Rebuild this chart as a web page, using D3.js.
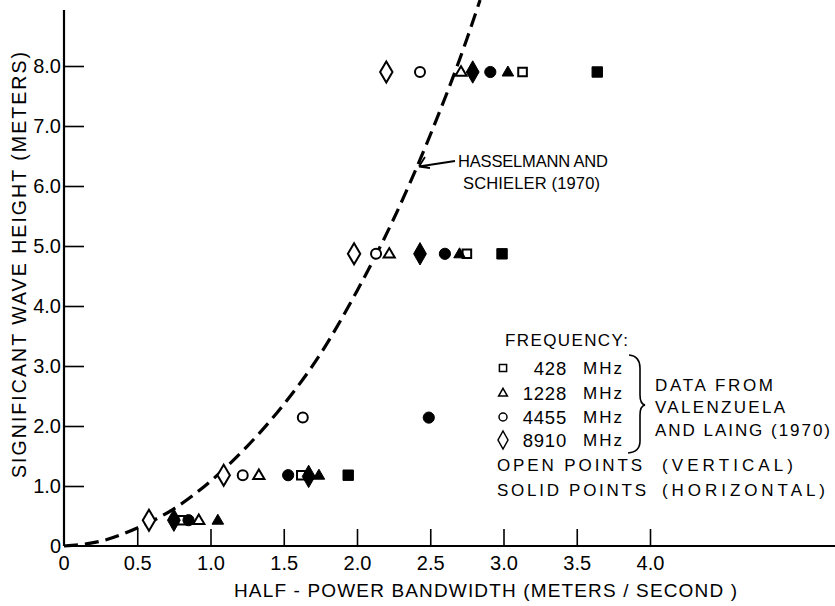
<!DOCTYPE html>
<html>
<head>
<meta charset="utf-8">
<script src="https://cdn.jsdelivr.net/npm/d3@7/dist/d3.min.js"></script>
<style>
  html, body { margin: 0; padding: 0; background: #fff; }
  svg { display: block; }
  text { font-family: "Liberation Sans", Arial, sans-serif; fill: #000; }
</style>
</head>
<body>
<svg id="chart" width="835" height="606"></svg>
<script>
// Tick values and labels
const xTicks = [0, 0.5, 1.0, 1.5, 2.0, 2.5, 3.0, 3.5, 4.0];
const xTickLabels = ["0", "0.5", "1.0", "1.5", "2.0", "2.5", "3.0", "3.5", "4.0"];
const yTicks = [0, 1, 2, 3, 4, 5, 6, 7, 8];
const yTickLabels = ["0", "1.0", "2.0", "3.0", "4.0", "5.0", "6.0", "7.0", "8.0"];

// Hasselmann and Schieler (1970) curve: bandwidth (m/s) vs wave height (m)
const curveBandwidth = [0, 0.25, 0.5, 0.75, 1.0, 1.25, 1.5, 1.75, 2.0, 2.25, 2.5, 2.75, 2.84];
const curveHeight    = [0, 0.08, 0.3, 0.62, 1.08, 1.66, 2.36, 3.2, 4.25, 5.45, 6.85, 8.45, 9.1];

// Valenzuela and Laing (1970): [bandwidth, significant wave height]
// open = vertical polarization, solid = horizontal polarization
const open428   = [[3.13, 7.9], [2.75, 4.87], [1.62, 1.18], [0.81, 0.43]];
const solid428  = [[3.64, 7.9], [2.99, 4.87], [1.94, 1.18]];
const open1228  = [[2.71, 7.9], [2.22, 4.87], [1.33, 1.18], [0.92, 0.43]];
const solid1228 = [[3.03, 7.9], [2.70, 4.87], [1.74, 1.18], [1.05, 0.43]];
const open4455  = [[2.43, 7.9], [2.13, 4.87], [1.63, 2.14], [1.22, 1.18]];
const solid4455 = [[2.91, 7.9], [2.60, 4.87], [2.49, 2.14], [1.53, 1.18], [0.85, 0.43]];
const open8910  = [[2.20, 7.9], [1.98, 4.87], [1.09, 1.18], [0.58, 0.43]];
const solid8910 = [[2.79, 7.9], [2.43, 4.87], [1.67, 1.16], [0.75, 0.43]];

const legendFreqs = ["428", "1228", "4455", "8910"];

const svg = d3.select("#chart");
svg.append("rect").attr("width", 835).attr("height", 606).attr("fill", "#fff");

const x = d3.scaleLinear().domain([0, 4]).range([64, 650]);
const y = d3.scaleLinear().domain([0, 8]).range([546, 66]);

// Marker shapes
const shapes = {
  square: s => `M${-s},${-s}h${2 * s}v${2 * s}h${-2 * s}Z`,
  triangle: (w, h) => `M0,${-h * 0.6}L${w},${h * 0.4}L${-w},${h * 0.4}Z`,
  circle: r => `M${r},0A${r},${r} 0 1 1 ${-r},0A${r},${r} 0 1 1 ${r},0Z`,
  diamond: (w, h) => `M0,${-h}L${w},0L0,${h}L${-w},0Z`
};

// Text helper: optional fixed drawn width, spacing stretched to fit
function label(parent, str, px, py, size, width, anchor) {
  const t = parent.append("text").attr("x", px).attr("y", py)
    .attr("dominant-baseline", "central").attr("font-size", size)
    .attr("text-anchor", anchor || "start").text(str);
  if (width) t.attr("textLength", width).attr("lengthAdjust", "spacing");
  return t;
}

// Axes
const xAxis = d3.axisBottom(x)
  .tickValues(xTicks.slice(1))
  .tickSize(-17)
  .tickPadding(10)
  .tickFormat((d) => xTickLabels[xTicks.indexOf(d)]);
const gx = svg.append("g").attr("transform", `translate(0,${y(0)})`).call(xAxis);
gx.select(".domain").remove();
gx.selectAll(".tick line").attr("stroke", "#000").attr("stroke-width", 1.6);
gx.selectAll(".tick text").attr("font-size", 20).attr("font-family", "Liberation Sans, Arial, sans-serif").attr("fill", "#000");

const yAxis = d3.axisLeft(y)
  .tickValues(yTicks.slice(1))
  .tickSize(-20)
  .tickPadding(3)
  .tickFormat((d) => yTickLabels[yTicks.indexOf(d)]);
const gy = svg.append("g").attr("transform", `translate(${x(0)},0)`).call(yAxis);
gy.select(".domain").remove();
gy.selectAll(".tick line").attr("stroke", "#000").attr("stroke-width", 1.6);
gy.selectAll(".tick text").attr("font-size", 20).attr("font-family", "Liberation Sans, Arial, sans-serif").attr("fill", "#000");

// Zero labels on both axes
label(svg, yTickLabels[0], x(0) - 3, y(0), 20, null, "end");
label(svg, xTickLabels[0], x(0), y(0) + 17, 20, null, "middle");

// Axis lines
svg.append("line").attr("x1", x(0)).attr("x2", x(0)).attr("y1", 10).attr("y2", y(0))
  .attr("stroke", "#000").attr("stroke-width", 2.2);
svg.append("line").attr("x1", x(0)).attr("x2", 835).attr("y1", y(0)).attr("y2", y(0))
  .attr("stroke", "#000").attr("stroke-width", 2.2);

// Axis titles
label(svg, "HALF - POWER BANDWIDTH (METERS / SECOND )", 234, 590, 19, 503);
label(svg, "SIGNIFICANT WAVE HEIGHT (METERS)", 0, 0, 19.5, 426, "middle")
  .attr("transform", "translate(19,265) rotate(-90)").attr("x", null).attr("y", null);

// Theoretical curve
const curvePts = curveBandwidth.map((b, i) => [b, curveHeight[i]]);
svg.append("path")
  .attr("d", d3.line().x(d => x(d[0])).y(d => y(d[1])).curve(d3.curveMonotoneX)(curvePts))
  .attr("fill", "none").attr("stroke", "#000").attr("stroke-width", 3.2)
  .attr("stroke-dasharray", "14,7");

// Curve annotation
svg.append("path").attr("d", "M455,161L419,166.5M419,166.5L425,157M419,166.5L430,168")
  .attr("fill", "none").attr("stroke", "#000").attr("stroke-width", 1.8);
label(svg, "HASSELMANN AND", 458, 161, 16.5, 150);
label(svg, "SCHIELER (1970)", 463, 183, 16.5, 137);

// Data points
function plot(data, pathFn, filled) {
  svg.append("g").selectAll("path").data(data).join("path")
    .attr("transform", d => `translate(${x(d[0])},${y(d[1])})`)
    .attr("d", pathFn)
    .attr("fill", filled ? "#000" : "#fff")
    .attr("stroke", "#000")
    .attr("stroke-width", filled ? 1 : 2);
}
plot(open428, () => shapes.square(4.3), false);
plot(open1228, () => shapes.triangle(5.6, 9.5), false);
plot(open4455, () => shapes.circle(5), false);
plot(open8910, () => shapes.diamond(6.2, 10.5), false);
plot(solid428, () => shapes.square(5.2), true);
plot(solid1228, () => shapes.triangle(5.8, 10), true);
plot(solid4455, () => shapes.circle(5.6), true);
plot(solid8910, () => shapes.diamond(6.4, 11.2), true);

// Legend
const lg = svg.append("g");
label(lg, "FREQUENCY:", 505, 340, 17, 123);
const legendY = [368, 393, 417, 440];
const legendShapes = [shapes.square(3.6), shapes.triangle(4.4, 7.8), shapes.circle(4), shapes.diamond(5, 9)];
legendFreqs.forEach((f, i) => {
  lg.append("path").attr("transform", `translate(503,${legendY[i]})`).attr("d", legendShapes[i])
    .attr("fill", "#fff").attr("stroke", "#000").attr("stroke-width", 1.5);
  label(lg, f, 567, legendY[i], 18.5, null, "end").attr("letter-spacing", 0.8);
  label(lg, "MHz", 583, legendY[i], 17, 39);
});
lg.append("path").attr("d", "M629,355Q640,356 640,368L640,395Q640,404 645,405Q640,406 640,415L640,441Q640,452 628,453")
  .attr("fill", "none").attr("stroke", "#000").attr("stroke-width", 1.6);
label(lg, "DATA FROM", 655, 385, 17, 118);
label(lg, "VALENZUELA", 655, 407, 17, 130);
label(lg, "AND LAING (1970)", 655, 430, 17, 175);
label(lg, "OPEN POINTS", 497, 465, 17, 145);
label(lg, "(VERTICAL)", 662, 465, 17, 131);
label(lg, "SOLID POINTS", 497, 490, 17, 149);
label(lg, "(HORIZONTAL)", 662, 490, 17, 163);
</script>
</body>
</html>
